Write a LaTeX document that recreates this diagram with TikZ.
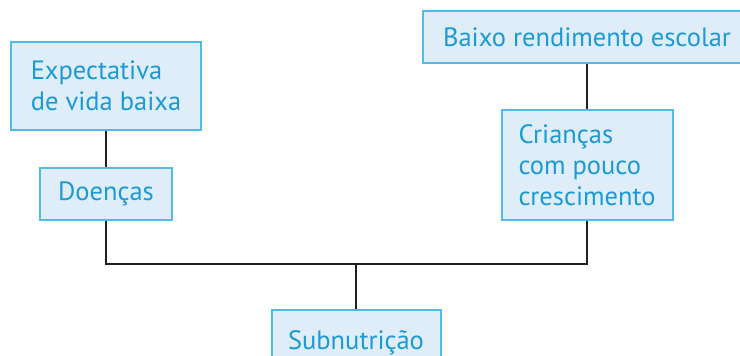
\documentclass[tikz,border=0pt]{standalone}
\usepackage{fontspec}
\setmainfont{PT Sans}
\definecolor{boxline}{HTML}{52BAE8}
\definecolor{boxfill}{HTML}{DEEDF8}
\definecolor{boxtext}{HTML}{1C9AD6}
\definecolor{linkline}{HTML}{231F20}
\begin{document}
\begin{tikzpicture}[x=1pt, y=-1pt,
    box/.style={draw=boxline, fill=boxfill, text=boxtext, line width=2pt,
      align=left, inner xsep=0pt, inner ysep=0pt,
      font=\fontsize{26.5}{31}\selectfont},
    link/.style={draw=linkline, line width=2pt}]
        \useasboundingbox (0,0) rectangle (740,356);
        \node[box, minimum width=190pt, minimum height=88pt] (expect) at (106,86) {Expectativa\\de vida baixa};
        \node[box, minimum width=132pt, minimum height=52pt] (doencas) at (106,194) {Doenças};
        \node[box, minimum width=328pt, minimum height=52pt] (baixo) at (587,37) {Baixo rendimento escolar};
        \node[box, minimum width=171pt, minimum height=110pt] (criancas) at (587,165) {Crianças\\com pouco\\crescimento};
        \node[box, minimum width=169pt, minimum height=66pt] (subnut) at (356,343) {Subnutrição};
        \coordinate (join) at (356,264);
        \draw[link] (expect.south) -- (doencas.north);
        \draw[link] (baixo.south) -- (criancas.north);
        \draw[link] (doencas.south) |- (join) -| (criancas.south);
        \draw[link] (join) -- (subnut.north);
      \end{tikzpicture}
\end{document}
